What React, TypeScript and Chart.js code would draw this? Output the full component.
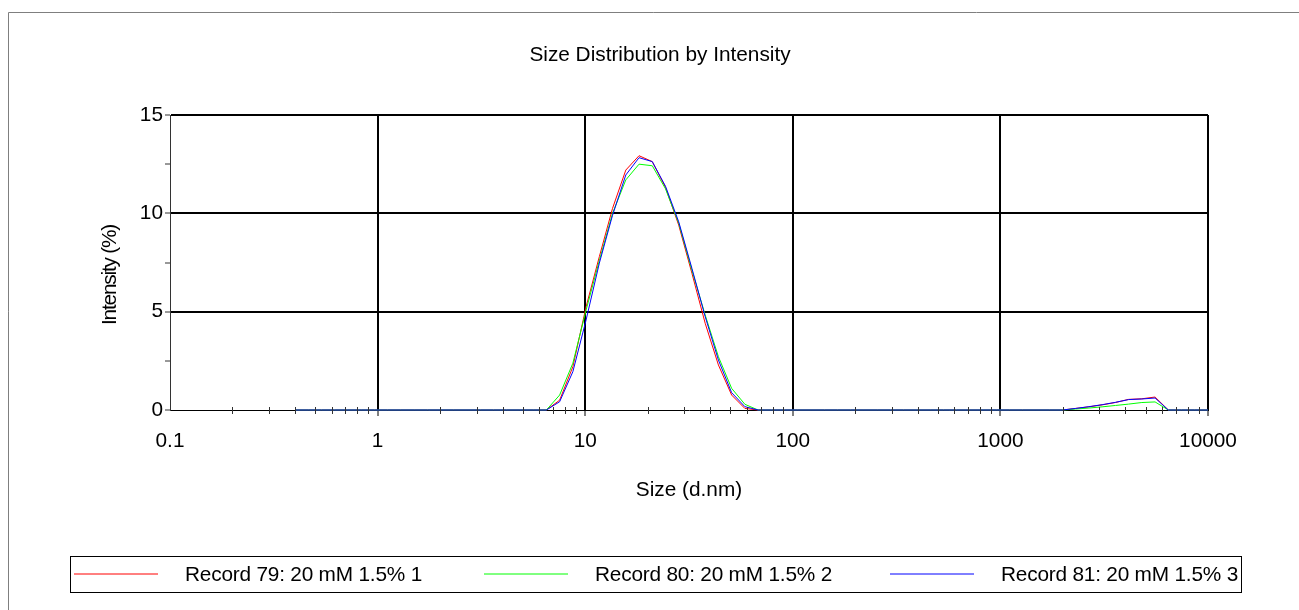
import React, { useEffect, useRef } from 'react';
import { Chart, registerables } from 'chart.js';

Chart.register(...registerables);

// Size bins (d.nm)
const sizes = [
  0.4, 0.4632, 0.5365, 0.6213, 0.7195, 0.8332, 0.9649, 1.117, 1.294, 1.499,
  1.736, 2.01, 2.328, 2.696, 3.122, 3.615, 4.187, 4.849, 5.615, 6.503,
  7.531, 8.721, 10.1, 11.7, 13.54, 15.69, 18.17, 21.04, 24.36, 28.21,
  32.67, 37.84, 43.82, 50.75, 58.77, 68.06, 78.82, 91.28, 105.7, 122.4,
  141.8, 164.2, 190.1, 220.2, 255, 295.3, 342, 396.1, 458.7, 531.2,
  615.1, 712.4, 825, 955.4, 1106, 1281, 1484, 1718, 1990, 2305,
  2669, 3091, 3580, 4145, 4801, 5560, 6439, 7456, 8635, 10000,
];

const record79 = [
  0, 0, 0, 0, 0, 0, 0, 0, 0, 0,
  0, 0, 0, 0, 0, 0, 0, 0, 0, 0,
  0.5, 2.2, 5.25, 7.8, 10.25, 12.2, 12.93, 12.63, 11.32, 9.4,
  6.95, 4.41, 2.29, 0.76, 0.08, 0, 0, 0, 0, 0,
  0, 0, 0, 0, 0, 0, 0, 0, 0, 0,
  0, 0, 0, 0, 0, 0, 0, 0, 0, 0.08,
  0.16, 0.26, 0.38, 0.54, 0.57, 0.66, 0, 0, 0, 0,
];

const record80 = [
  0, 0, 0, 0, 0, 0, 0, 0, 0, 0,
  0, 0, 0, 0, 0, 0, 0, 0, 0, 0,
  0.76, 2.38, 5.08, 7.6, 10.0, 11.7, 12.5, 12.42, 11.25, 9.5,
  7.1, 4.83, 2.71, 1.1, 0.29, 0, 0, 0, 0, 0,
  0, 0, 0, 0, 0, 0, 0, 0, 0, 0,
  0, 0, 0, 0, 0, 0, 0, 0, 0, 0.05,
  0.1, 0.16, 0.23, 0.3, 0.38, 0.41, 0, 0, 0, 0,
];

const record81 = [
  0, 0, 0, 0, 0, 0, 0, 0, 0, 0,
  0, 0, 0, 0, 0, 0, 0, 0, 0, 0,
  0.42, 1.95, 4.58, 7.47, 9.9, 11.95, 12.83, 12.63, 11.38, 9.57,
  7.2, 4.75, 2.54, 0.88, 0.17, 0, 0, 0, 0, 0,
  0, 0, 0, 0, 0, 0, 0, 0, 0, 0,
  0, 0, 0, 0, 0, 0, 0, 0, 0, 0.08,
  0.17, 0.27, 0.39, 0.53, 0.56, 0.61, 0, 0, 0, 0,
];

const seriesLabels = [
  'Record 79: 20 mM 1.5% 1',
  'Record 80: 20 mM 1.5% 2',
  'Record 81: 20 mM 1.5% 3',
];
const seriesColors = ['#ff0000', '#00ff00', '#0000ff'];
const seriesValues = [record79, record80, record81];

const xDecades = [0.1, 1, 10, 100, 1000, 10000];
const xMinorFactors = [2, 3, 4, 5, 6, 7, 8, 9];
const yTickValues = [0, 2.5, 5, 7.5, 10, 12.5, 15];
const yLabelledTicks = [0, 5, 10, 15];

const chartTitle = 'Size Distribution by Intensity';
const xTitle = 'Size (d.nm)';
const yTitle = 'Intensity (%)';

const FONT = "'Liberation Sans', Arial, sans-serif";
const FS = 20.8;

const isDecade = (v: number) => xDecades.some((d) => Math.abs(d - v) / d < 1e-6);
const fmtDecade = (v: number) => {
  const d = xDecades.find((dd) => Math.abs(dd - v) / dd < 1e-6);
  return d === undefined ? '' : String(d);
};

const xTickList: number[] = [];
xDecades.forEach((d, i) => {
  xTickList.push(d);
  if (i < xDecades.length - 1) xMinorFactors.forEach((f) => xTickList.push(Math.round(d * f * 1e6) / 1e6));
});

const legendLineStarts = [74, 484, 890];

const decorPlugin = {
  id: 'decor',
  afterDraw(chart: any) {
    const ctx = chart.ctx as CanvasRenderingContext2D;
    const xs = chart.scales.x;
    const area = chart.chartArea;
    ctx.save();
    // outer frame
    ctx.strokeStyle = '#7f7f7f';
    ctx.lineWidth = 1;
    ctx.beginPath();
    ctx.moveTo(8.5, chart.height);
    ctx.lineTo(8.5, 12.5);
    ctx.lineTo(chart.width, 12.5);
    ctx.stroke();

    // minor x ticks crossing the baseline
    ctx.strokeStyle = '#333';
    ctx.lineWidth = 1;
    xs.ticks.forEach((t: any) => {
      if (isDecade(t.value)) return;
      const px = Math.round(xs.getPixelForValue(t.value)) + 0.5;
      ctx.beginPath();
      ctx.moveTo(px, area.bottom - 3);
      ctx.lineTo(px, area.bottom + 4);
      ctx.stroke();
    });

    // title
    ctx.fillStyle = '#000';
    ctx.font = `${FS}px ${FONT}`;
    ctx.textAlign = 'center';
    ctx.textBaseline = 'middle';
    ctx.fillText(chartTitle, 660, 55);

    // y title
    ctx.save();
    ctx.translate(110, 275);
    ctx.rotate(-Math.PI / 2);
    (ctx as any).letterSpacing = '-1.2px';
    ctx.fillText(yTitle, 0, 0);
    ctx.restore();

    // legend
    ctx.strokeStyle = '#000';
    ctx.lineWidth = 1;
    ctx.strokeRect(70.5, 556.5, 1171, 36);
    ctx.textAlign = 'left';
    (ctx as any).letterSpacing = '-0.2px';
    chart.data.datasets.forEach((ds: any, i: number) => {
      const lx = legendLineStarts[i];
      ctx.strokeStyle = ds.borderColor;
      ctx.beginPath();
      ctx.moveTo(lx, 574);
      ctx.lineTo(lx + 84, 574);
      ctx.stroke();
      ctx.fillStyle = '#000';
      ctx.fillText(ds.label, lx + 111, 575);
    });
    ctx.restore();
  },
};

export default function App() {
  const ref = useRef<HTMLCanvasElement | null>(null);
  useEffect(() => {
    if (!ref.current) return;
    const chart = new Chart(ref.current, {
      type: 'line',
      data: {
        datasets: seriesLabels.map((label, i) => ({
          label,
          data: sizes.map((s, j) => ({ x: s, y: seriesValues[i][j] })),
          borderColor: seriesColors[i],
          backgroundColor: seriesColors[i],
          borderWidth: 1,
          pointRadius: 0,
          tension: 0,
          fill: false,
          clip: false as any,
          order: 2 - i,
        })),
      },
      options: {
        animation: false,
        responsive: false,
        maintainAspectRatio: false,
        events: [],
        layout: { padding: { top: 115, left: 0, right: 91, bottom: 0 } },
        plugins: {
          legend: { display: false },
          title: { display: false },
          tooltip: { enabled: false },
        },
        scales: {
          x: {
            type: 'logarithmic',
            min: 0.1,
            max: 10000,
            afterBuildTicks: (scale: any) => {
              scale.ticks = xTickList.map((v) => ({ value: v }));
            },
            afterFit: (scale: any) => {
              scale.height = 200;
            },
            ticks: {
              autoSkip: false,
              maxRotation: 0,
              minRotation: 0,
              padding: 13,
              color: '#000',
              font: { family: FONT, size: FS },
              callback: (v: any) => fmtDecade(Number(v)),
            },
            grid: {
              color: (c: any) => (c.tick && isDecade(c.tick.value) && c.tick.value > 0.11 ? '#000' : 'rgba(0,0,0,0)'),
              lineWidth: 2,
              tickLength: 6,
              tickWidth: 1,
              tickColor: (c: any) => (c.tick && isDecade(c.tick.value) && c.tick.value > 0.11 ? '#000' : 'rgba(0,0,0,0)'),
            },
            border: { display: true, color: '#000', width: 1 },
            title: {
              display: true,
              text: xTitle,
              color: '#000',
              font: { family: FONT, size: FS },
              padding: { top: 0, bottom: 107 },
            },
          },
          y: {
            type: 'linear',
            min: 0,
            max: 15,
            afterBuildTicks: (scale: any) => {
              scale.ticks = yTickValues.map((v) => ({ value: v }));
            },
            afterFit: (scale: any) => {
              scale.width = 170;
            },
            ticks: {
              autoSkip: false,
              padding: 2,
              color: '#000',
              font: { family: FONT, size: FS },
              callback: (v: any) => (yLabelledTicks.includes(Number(v)) ? String(v) : ''),
            },
            grid: {
              color: (c: any) => (c.tick && yLabelledTicks.includes(c.tick.value) && c.tick.value > 0 ? '#000' : 'rgba(0,0,0,0)'),
              lineWidth: 2,
              tickLength: 5,
              tickWidth: 1,
              tickColor: '#333',
            },
            border: { display: true, color: '#333', width: 1 },
            title: { display: false },
          },
        },
      },
      plugins: [decorPlugin],
    });
    return () => chart.destroy();
  }, []);

  return (
    <div style={{ position: 'absolute', left: 0, top: 0, width: 1299, height: 610, background: '#fff' }}>
      <canvas ref={ref} width={1299} height={610} style={{ width: 1299, height: 610, display: 'block' }} />
    </div>
  );
}
